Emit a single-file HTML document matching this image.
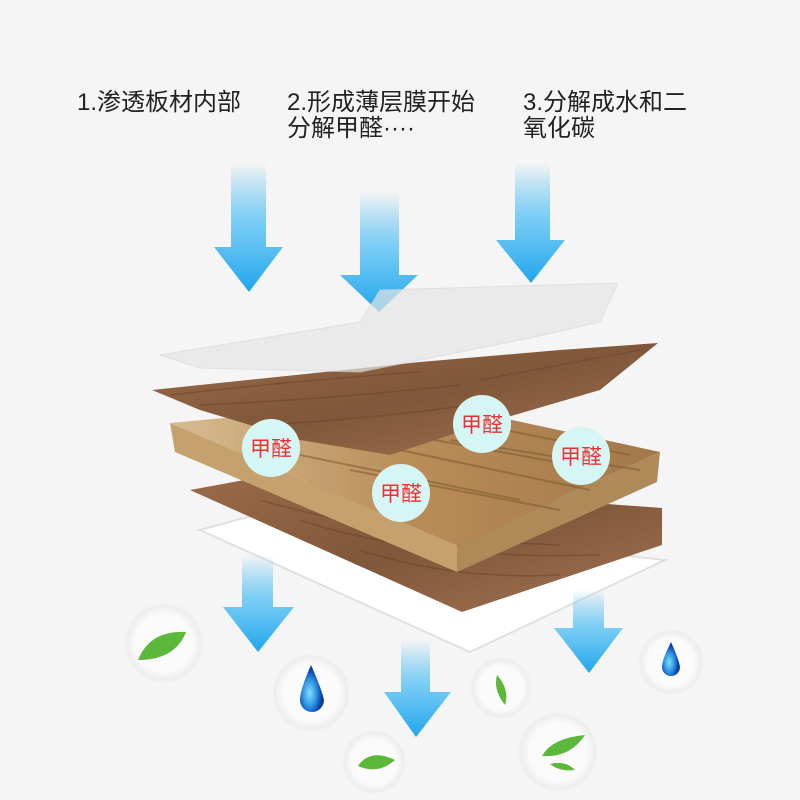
<!DOCTYPE html>
<html><head><meta charset="utf-8"><style>
html,body{margin:0;padding:0;width:800px;height:800px;overflow:hidden;background:#f5f5f5;}
svg{display:block}
</style></head><body>
<svg width="800" height="800" viewBox="0 0 800 800" xmlns="http://www.w3.org/2000/svg">
<defs>
<linearGradient id="ag" x1="0" y1="0" x2="0" y2="1">
<stop offset="0" stop-color="#3bb4f2" stop-opacity="0"/>
<stop offset="0.45" stop-color="#5cc3f5" stop-opacity="0.8"/>
<stop offset="1" stop-color="#1ea5ec"/>
</linearGradient>
<linearGradient id="wood" x1="0" y1="0" x2="1" y2="1">
<stop offset="0" stop-color="#9a6a48"/><stop offset="0.5" stop-color="#80573a"/><stop offset="1" stop-color="#a37352"/>
</linearGradient>
<linearGradient id="board" x1="0" y1="0" x2="1" y2="0">
<stop offset="0" stop-color="#d6bc90"/><stop offset="0.5" stop-color="#b98c58"/><stop offset="1" stop-color="#a3784a"/>
</linearGradient>
<radialGradient id="bub"><stop offset="0.75" stop-color="#fbfbfb"/><stop offset="1" stop-color="#ececec"/></radialGradient>
<radialGradient id="drop" cx="0.4" cy="0.6"><stop offset="0" stop-color="#7fe0ff"/><stop offset="0.6" stop-color="#2a8fe0"/><stop offset="1" stop-color="#0b3fa8"/></radialGradient>
</defs>

<g font-family="Liberation Sans, Noto Sans CJK SC, sans-serif" font-size="24" fill="#222">
<text x="77" y="110">1.渗透板材内部</text>
<text x="287" y="110">2.形成薄层膜开始</text>
<text x="287" y="136">分解甲醛····</text>
<text x="523" y="110">3.分解成水和二</text>
<text x="523" y="136">氧化碳</text>
</g>

<!-- top arrows -->
<g fill="url(#ag)">
<polygon points="231,163 266,163 266,247 283,247 249,292 214,247 231,247"/>
<polygon points="360,192 399,192 399,275 418,275 379,312 340,275 360,275"/>
<polygon points="515,163 550,163 550,240 565,240 531,283 496,240 515,240"/>
</g>

<!-- bottom white sheet -->
<polygon points="200,530 255,515 665,560 470,652" fill="#ffffff" stroke="#e0e0e0" stroke-width="2"/>
<!-- bottom veneer -->
<polygon points="190,490 255,478 662,508 662,545 462,612" fill="url(#wood)"/>
<g stroke="#5e3b22" stroke-width="1.5" opacity="0.4" fill="none">
<path d="M260,500 Q400,540 560,545"/><path d="M300,520 Q420,560 600,555"/><path d="M360,550 Q450,580 560,575"/>
</g>
<!-- board side faces -->
<polygon points="170,423 175,452 457,572 457,545" fill="#c5a16d"/>
<polygon points="457,545 660,452 657,482 457,572" fill="#ad8a58"/>
<!-- board top -->
<polygon points="170,423 420,400 660,452 457,545" fill="url(#board)"/>
<g stroke="#7c5a30" stroke-width="2" opacity="0.55">
<line x1="380" y1="430" x2="600" y2="470"/><line x1="400" y1="450" x2="590" y2="490"/><line x1="350" y1="470" x2="560" y2="510"/><line x1="430" y1="415" x2="630" y2="455"/>
<line x1="300" y1="455" x2="520" y2="500"/><line x1="450" y1="440" x2="640" y2="470"/>
</g>
<!-- top veneer -->
<polygon points="152,390 420,362 560,350 658,343 600,390 480,425 390,455 300,440 200,410" fill="url(#wood)"/>
<g stroke="#6b4327" stroke-width="1.5" opacity="0.5" fill="none">
<path d="M170,395 Q300,380 420,372"/><path d="M200,405 Q320,400 460,385"/><path d="M260,425 Q360,420 470,405"/><path d="M480,380 Q560,365 640,350"/>
</g>
<!-- film -->
<polygon points="160,355 360,322 380,290 618,283 600,322 530,338 420,360 360,372 200,368" fill="#e6e6e6" opacity="0.7" stroke="#d8d8d8"/>

<!-- formaldehyde bubbles -->
<g font-family="Liberation Sans, Noto Sans CJK SC, sans-serif" font-size="21" fill="#f03030" text-anchor="middle">
<circle cx="271" cy="448" r="29" fill="#d5f6f5"/><text x="271" y="456">甲醛</text>
<circle cx="482" cy="424" r="29" fill="#d5f6f5"/><text x="482" y="432">甲醛</text>
<circle cx="401" cy="493" r="29" fill="#d5f6f5"/><text x="401" y="501">甲醛</text>
<circle cx="581" cy="456" r="29" fill="#d5f6f5"/><text x="581" y="464">甲醛</text>
</g>

<!-- bottom arrows -->
<g fill="url(#ag)">
<polygon points="242,555 273,555 273,607 294,607 258,652 223,607 242,607"/>
<polygon points="401,640 430,640 430,692 451,692 416,737 384,692 401,692"/>
<polygon points="573,590 604,590 604,628 623,628 589,673 554,628 573,628"/>
</g>

<!-- result bubbles -->
<g stroke="#efefef" stroke-width="2" fill="url(#bub)">
<circle cx="164" cy="643" r="38"/>
<circle cx="311" cy="693" r="37"/>
<circle cx="374" cy="762" r="30"/>
<circle cx="501" cy="688" r="29"/>
<circle cx="558" cy="752" r="38"/>
<circle cx="671" cy="662" r="31"/>
</g>
<g fill="#5cb83a">
<path d="M138,660 Q150,630 186,632 Q175,660 138,660Z"/>
<path d="M358,766 Q370,748 395,760 Q378,775 358,766Z"/>
<path d="M497,675 Q510,690 505,705 Q493,690 497,675Z"/>
<path d="M542,756 Q552,738 585,735 Q570,758 542,756Z"/>
<path d="M550,764 Q565,760 575,770 Q560,772 550,764Z"/>
</g>
<path d="M311,665 Q300,690 300,700 A12,12 0 0 0 324,700 Q322,690 311,665Z" fill="url(#drop)"/>
<path d="M671,642 Q662,660 662,667 A9,9 0 0 0 680,667 Q679,660 671,642Z" fill="url(#drop)"/>
</svg>
</body></html>
